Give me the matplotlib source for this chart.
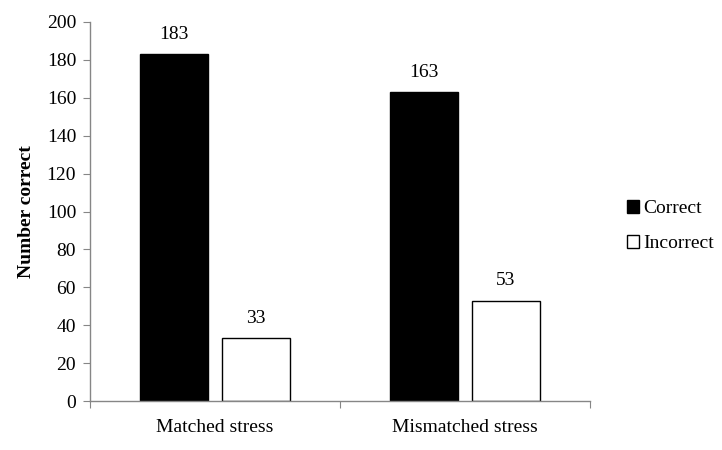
import matplotlib
matplotlib.use("Agg")
import matplotlib.pyplot as plt
from matplotlib.patches import Patch
import numpy as np

categories = ["Matched stress", "Mismatched stress"]
series_names = ["Correct", "Incorrect"]
correct = [183, 163]
incorrect = [33, 53]
yticks = [0, 20, 40, 60, 80, 100, 120, 140, 160, 180, 200]

plt.rcParams['font.family'] = ['Liberation Serif', 'DejaVu Serif']

fig = plt.figure(figsize=(7.22, 4.5), dpi=100)
ax = fig.add_axes([90/722, 49/450, 500/722, 379/450])

x = np.arange(len(categories))
w = 0.272
off = 0.163
b1 = ax.bar(x - off, correct, w, color='black', edgecolor='black', linewidth=1, label=series_names[0])
b2 = ax.bar(x + off, incorrect, w, color='white', edgecolor='black', linewidth=1, label=series_names[1])

for bars, vals in ((b1, correct), (b2, incorrect)):
    for r, v in zip(bars, vals):
        ax.annotate(str(v), (r.get_x() + r.get_width()/2, v), xytext=(0, 8),
                    textcoords='offset points', ha='center', va='bottom', fontsize=14)

ax.set_xlim(-0.5, len(categories) - 0.5)
ax.set_ylim(0, 200)
ax.set_yticks(yticks)
ax.tick_params(axis='y', labelsize=14, length=5, color='#868686', pad=5)
ax.set_xticks(np.arange(len(categories) + 1) - 0.5)
ax.set_xticklabels([])
ax.set_xticks(x, minor=True)
ax.set_xticklabels(categories, minor=True, fontsize=14)
ax.tick_params(axis='x', which='major', length=5, color='#868686')
ax.tick_params(axis='x', which='minor', length=0, pad=13)

for s in ('top', 'right'):
    ax.spines[s].set_visible(False)
for s in ('left', 'bottom'):
    ax.spines[s].set_color('#868686')
    ax.spines[s].set_linewidth(1)

ax.set_ylabel("Number correct", fontsize=14, fontweight='bold', labelpad=8)

handles = [Patch(facecolor='black', edgecolor='black', label=series_names[0]),
           Patch(facecolor='white', edgecolor='black', label=series_names[1])]
fig.legend(handles=handles, loc='center left', bbox_to_anchor=(609/722, 1 - 226/450),
           frameon=False, fontsize=14, handlelength=0.65, handleheight=0.65,
           handletextpad=0.2, labelspacing=0.9)

fig.savefig("out.png", dpi=100)
